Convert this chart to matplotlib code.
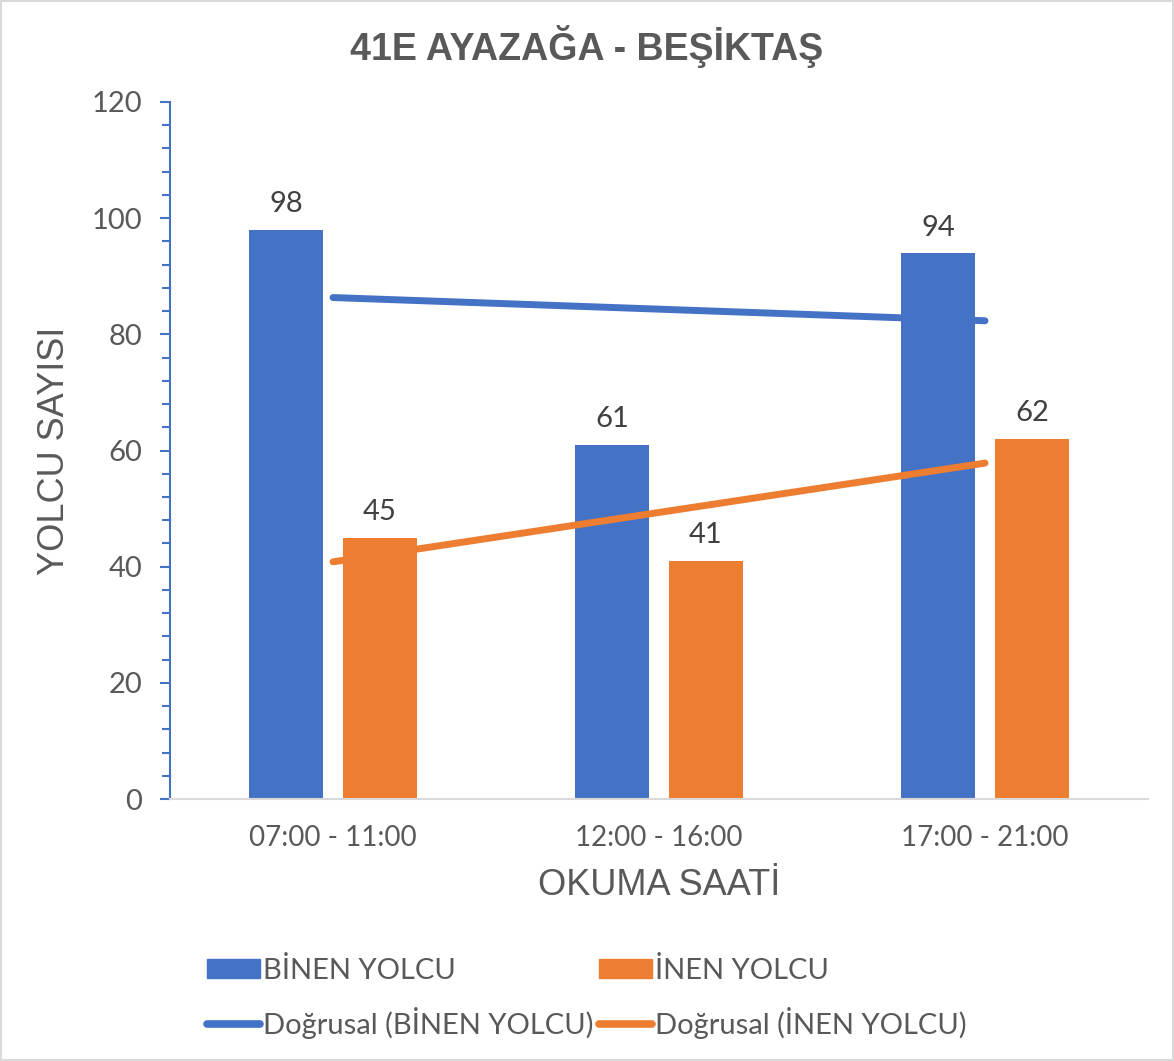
import numpy as np
import matplotlib
matplotlib.use("Agg")
import matplotlib.pyplot as plt
from matplotlib.ticker import MultipleLocator
from matplotlib.lines import Line2D
from matplotlib.patches import Patch

categories = ["07:00 - 11:00", "12:00 - 16:00", "17:00 - 21:00"]
binen = [98, 61, 94]
inen = [45, 41, 62]
series_names = ["BİNEN YOLCU", "İNEN YOLCU"]
title = "41E AYAZAĞA - BEŞİKTAŞ"

BLUE = "#4472C4"
ORANGE = "#ED7D31"
TXT = "#595959"

fig = plt.figure(figsize=(11.74, 10.61), dpi=100)
fig.patch.set_edgecolor("#D9D9D9")
fig.patch.set_linewidth(1.5)
ax = fig.add_axes([170/1174, 1-799/1061, (1148-170)/1174, (799-102)/1061])

x = np.arange(len(categories))
w = 0.226
off = 0.144
b1 = ax.bar(x - off, binen, w, color=BLUE, zorder=2)
b2 = ax.bar(x + off, inen, w, color=ORANGE, zorder=2)

for rects, vals in ((b1, binen), (b2, inen)):
    for r, v in zip(rects, vals):
        ax.annotate(str(v), (r.get_x() + r.get_width()/2, v), xytext=(0, 9),
                    textcoords="offset points", ha="center", va="bottom",
                    fontsize=21, color="#404040", family="Lato")

xs = np.array([1, 2, 3])
for vals, col in ((binen, BLUE), (inen, ORANGE)):
    k, c = np.polyfit(xs, vals, 1)
    ax.plot([x[0], x[-1]], [k*1 + c, k*3 + c], color=col, lw=5,
            solid_capstyle="round", zorder=3)

ax.set_xlim(-0.5, 2.5)
ax.set_ylim(0, 120)
ax.yaxis.set_major_locator(MultipleLocator(20))
ax.yaxis.set_minor_locator(MultipleLocator(4))
ax.set_xticks(x)
ax.set_xticklabels(categories)

for s in ("top", "right"):
    ax.spines[s].set_visible(False)
ax.spines["left"].set_color(BLUE)
ax.spines["left"].set_linewidth(1.5)
ax.spines["bottom"].set_color("#D9D9D9")
ax.spines["bottom"].set_linewidth(1.5)

ax.tick_params(axis="y", which="both", colors=BLUE, labelcolor=TXT, length=7,
               width=1.5, labelsize=21, pad=13)
ax.tick_params(axis="y", which="minor", length=6)
ax.tick_params(axis="x", length=0, labelcolor=TXT, labelsize=20, pad=19)
for lab in ax.get_xticklabels() + ax.get_yticklabels():
    lab.set_family("Lato")

ax.set_ylabel("YOLCU SAYISI", fontsize=26, color=TXT, family="Liberation Sans", labelpad=14)
ax.set_xlabel("OKUMA SAATİ", fontsize=26, color=TXT, family="Liberation Sans", labelpad=12)

fig.text(0.5, 1-47/1061, title, ha="center", va="center", fontsize=27,
         fontweight="bold", color=TXT, family="Liberation Sans")

handles = [Patch(color=BLUE), Line2D([], [], color=BLUE, lw=5.5, solid_capstyle="round"),
           Patch(color=ORANGE), Line2D([], [], color=ORANGE, lw=5.5, solid_capstyle="round")]
labels = [series_names[0], "Doğrusal (" + series_names[0] + ")",
          series_names[1], "Doğrusal (" + series_names[1] + ")"]
leg = fig.legend(handles, labels, ncol=2, loc="center",
                 bbox_to_anchor=(0.5, 1-998/1061), frameon=False,
                 prop={"family": "Lato", "size": 21}, labelcolor=TXT,
                 handlelength=1.8, handleheight=0.62, handletextpad=0.12,
                 columnspacing=0.2, labelspacing=0.8, borderaxespad=0)

fig.savefig("out.png", dpi=100)
